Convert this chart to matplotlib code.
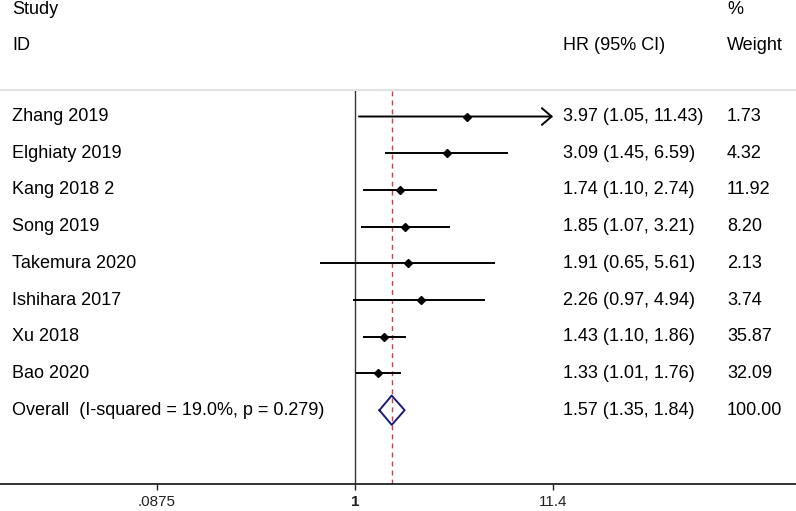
import matplotlib.pyplot as plt
import numpy as np

plt.rcParams["font.family"] = ["Liberation Sans", "DejaVu Sans"]

studies = ["Zhang 2019", "Elghiaty 2019", "Kang 2018 2", "Song 2019",
           "Takemura 2020", "Ishihara 2017", "Xu 2018", "Bao 2020"]
hr = [3.97, 3.09, 1.74, 1.85, 1.91, 2.26, 1.43, 1.33]
ci_low = [1.05, 1.45, 1.10, 1.07, 0.65, 0.97, 1.10, 1.01]
ci_high = [11.43, 6.59, 2.74, 3.21, 5.61, 4.94, 1.86, 1.76]
weights = [1.73, 4.32, 11.92, 8.20, 2.13, 3.74, 35.87, 32.09]
overall_label = "Overall  (I-squared = 19.0%, p = 0.279)"
overall_hr, overall_low, overall_high = 1.57, 1.35, 1.84
tick_vals = [0.0875, 1, 11.4]
tick_labels = [".0875", "1", "11.4"]

W, H = 796, 511
fig = plt.figure(figsize=(W / 100, H / 100), dpi=100)
ax = fig.add_axes([0, (H - 484) / H, 1, (484 - 90) / H])

# log axis: 1 sits at x=355 px, 81.4 px per ln unit
ax.set_xscale("log")
ax.set_xlim(np.exp(-355 / 81.4), np.exp((W - 355) / 81.4))
n = len(studies)
ax.set_ylim(10.01, -0.722)
ax.set_yticks([])
ax.set_xticks(tick_vals)
ax.set_xticklabels(tick_labels, fontsize=11)
ax.xaxis.set_minor_locator(plt.NullLocator())
ax.tick_params(axis="x", direction="out", length=4.5, width=1, pad=3.5, colors="#222222")
ax.get_xticklabels()[1].set_fontweight("bold")
for s in ["left", "right"]:
    ax.spines[s].set_visible(False)
ax.spines["top"].set_color("#e2e2e2")
ax.spines["top"].set_linewidth(1.5)
ax.spines["bottom"].set_color("#222222")
ax.spines["bottom"].set_linewidth(1.3)

# reference lines
ax.axvline(1, color="#333333", lw=1.0)
ax.axvline(overall_hr, color="#d03a4a", lw=1.0, ls=(0, (3.5, 3)))

xmax_tick = tick_vals[-1]
for i in range(n):
    lo, hi = ci_low[i], ci_high[i]
    if hi > xmax_tick:
        ax.annotate("", xy=(xmax_tick, i), xytext=(lo, i),
                    arrowprops=dict(arrowstyle="->,head_length=0.7,head_width=0.6",
                                    color="black", lw=1.4, shrinkA=0, shrinkB=0))
    else:
        ax.plot([lo, hi], [i, i], color="black", lw=1.4, solid_capstyle="butt")
    ax.plot(hr[i], i, marker="D", color="black", markersize=4)

# overall diamond
yo = n
dx = [overall_low, overall_hr, overall_high, overall_hr, overall_low]
dy = [yo, yo - 0.4, yo, yo + 0.4, yo]
ax.plot(dx, dy, color="#1a1a7a", lw=1.4)

# text columns
tr = ax.get_yaxis_transform()
fs = 13
x_study = 12 / W
x_hr = 563 / W
x_wt = 727 / W
for i in range(n):
    ax.text(x_study, i, studies[i], transform=tr, ha="left", va="center", fontsize=fs)
    ax.text(x_hr, i, f"{hr[i]:.2f} ({ci_low[i]:.2f}, {ci_high[i]:.2f})",
            transform=tr, ha="left", va="center", fontsize=fs)
    ax.text(x_wt, i, f"{weights[i]:.2f}", transform=tr, ha="left", va="center", fontsize=fs)
ax.text(x_study, yo, overall_label, transform=tr, ha="left", va="center", fontsize=fs)
ax.text(x_hr, yo, f"{overall_hr:.2f} ({overall_low:.2f}, {overall_high:.2f})",
        transform=tr, ha="left", va="center", fontsize=fs)
ax.text(x_wt, yo, "100.00", transform=tr, ha="left", va="center", fontsize=fs)

# header
fig.text(x_study, 1 - 10 / H, "Study", ha="left", va="center", fontsize=fs)
fig.text(x_study, 1 - 45 / H, "ID", ha="left", va="center", fontsize=fs)
fig.text(x_hr, 1 - 45 / H, "HR (95% CI)", ha="left", va="center", fontsize=fs)
fig.text(x_wt, 1 - 9 / H, "%", ha="left", va="center", fontsize=fs)
fig.text(x_wt, 1 - 45 / H, "Weight", ha="left", va="center", fontsize=fs)

fig.savefig("out.png", dpi=100)
